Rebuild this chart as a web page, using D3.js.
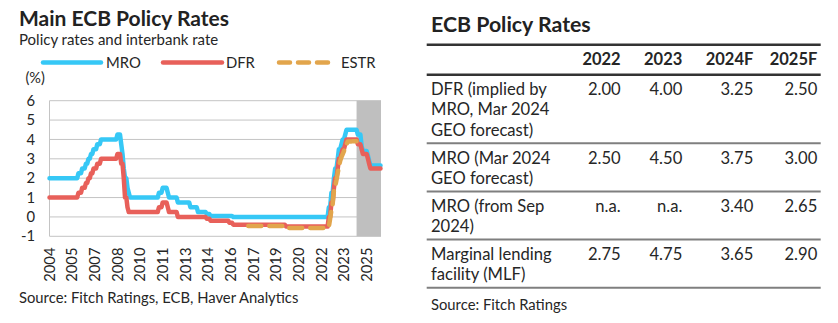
<!DOCTYPE html>
<html><head><meta charset="utf-8">
<script src="https://cdn.jsdelivr.net/npm/d3@7"></script>
<style>
html,body{margin:0;padding:0;background:#fff;}
svg{display:block;font-family:Lato, "Open Sans", sans-serif;}
</style></head>
<body><svg id="c" width="838" height="323"></svg>
<script>
// ---------- DATA ----------
// Rate change points [month, value] (value holds until next change)
const mroChanges = [["2004-01",2.00],["2005-12",2.25],["2006-03",2.50],["2006-06",2.75],["2006-08",3.00],["2006-10",3.25],["2006-12",3.50],["2007-03",3.75],["2007-06",4.00],["2008-07",4.25],["2008-10",3.75],["2008-11",3.25],["2008-12",2.50],["2009-01",2.00],["2009-03",1.50],["2009-04",1.25],["2009-05",1.00],["2011-04",1.25],["2011-07",1.50],["2011-11",1.25],["2011-12",1.00],["2012-07",0.75],["2013-05",0.50],["2013-11",0.25],["2014-06",0.15],["2014-09",0.05],["2016-03",0.00],["2022-07",0.50],["2022-09",1.25],["2022-11",2.00],["2022-12",2.50],["2023-02",3.00],["2023-03",3.50],["2023-05",3.75],["2023-06",4.00],["2023-08",4.25],["2023-09",4.50],["2024-06",4.25],["2024-09",3.65],["2024-10",3.40],["2025-02",3.15],["2025-03",2.90],["2025-04",2.65]];
const dfrChanges = [["2004-01",1.00],["2005-12",1.25],["2006-03",1.50],["2006-06",1.75],["2006-08",2.00],["2006-10",2.25],["2006-12",2.50],["2007-03",2.75],["2007-06",3.00],["2008-07",3.25],["2008-10",2.75],["2008-12",2.00],["2009-01",1.00],["2009-03",0.50],["2009-04",0.25],["2011-04",0.50],["2011-07",0.75],["2011-11",0.50],["2011-12",0.25],["2012-07",0.00],["2014-06",-0.10],["2014-09",-0.20],["2015-12",-0.30],["2016-03",-0.40],["2019-09",-0.50],["2022-07",0.00],["2022-09",0.75],["2022-11",1.50],["2022-12",2.00],["2023-02",2.50],["2023-03",3.00],["2023-05",3.25],["2023-06",3.50],["2023-08",3.75],["2023-09",4.00],["2024-06",3.75],["2024-09",3.50],["2024-10",3.25],["2025-02",3.00],["2025-03",2.75],["2025-04",2.50]];
const estrChanges = [["2017-03",-0.47],["2019-10",-0.57],["2022-07",-0.51],["2022-08",-0.09],["2022-09",0.35],["2022-10",0.66],["2022-11",1.37],["2022-12",1.57],["2023-01",1.90],["2023-02",2.28],["2023-03",2.57],["2023-04",2.90],["2023-05",3.08],["2023-06",3.24],["2023-07",3.40],["2023-08",3.64],["2023-09",3.75],["2023-10",3.90],["2024-02",3.91]];
const seriesEnd = {MRO:"2025-12", DFR:"2025-12", ESTR:"2024-05"};
const seriesNames = ["MRO","DFR","ESTR"];
const forecastStart = "2024-05";
const xTickDates = ["2004-01","2005-07","2007-01","2008-07","2010-01","2011-07","2013-01","2014-07","2016-01","2017-07","2019-01","2020-07","2022-01","2023-07","2025-01"];
const xTickLabels = ["2004","2005","2007","2008","2010","2011","2013","2014","2016","2017","2019","2020","2022","2023","2025"];
const yTicks = [-1,0,1,2,3,4,5,6];

const tableColumns = ["2022","2023","2024F","2025F"];
const tableRowLabels = [["DFR (implied by","MRO, Mar 2024","GEO forecast)"],["MRO (Mar 2024","GEO forecast)"],["MRO (from Sep","2024)"],["Marginal lending","facility (MLF)"]];
const rowDFR = ["2.00","4.00","3.25","2.50"];
const rowMROMar = ["2.50","4.50","3.75","3.00"];
const rowMROSep = ["n.a.","n.a.","3.40","2.65"];
const rowMLF = ["2.75","4.75","3.65","2.90"];

// ---------- HELPERS ----------
const parseM = d3.timeParse("%Y-%m");
function holdMonthly(changes, end){
  const out=[]; let i=0; let v=changes[0][1];
  const endD=parseM(end);
  for(let d=parseM(changes[0][0]); d<=endD; d=d3.timeMonth.offset(d,1)){
    while(i<changes.length && parseM(changes[i][0])<=d){ v=changes[i][1]; i++; }
    out.push({date:d, value:v});
  }
  return out;
}
const series = {
  MRO: holdMonthly(mroChanges, seriesEnd.MRO),
  DFR: holdMonthly(dfrChanges, seriesEnd.DFR),
  ESTR: holdMonthly(estrChanges, seriesEnd.ESTR)
};
const colors = {MRO:"#36c8f6", DFR:"#e8605a", ESTR:"#e2a54c"};
const textCol = "#262626";
const fs = 14.8;

const svg = d3.select("#c");

// ---------- LEFT CHART ----------
svg.append("text").attr("x",19).attr("y",26).attr("font-size",21).attr("font-weight",700).attr("fill","#222").text("Main ECB Policy Rates");
svg.append("text").attr("x",19).attr("y",45).attr("font-size",15).attr("fill",textCol).text("Policy rates and interbank rate");

const x = d3.scaleTime().domain([parseM("2004-01"), parseM("2025-12")]).range([49.5, 380.5]);
const y = d3.scaleLinear().domain([-1,6]).range([236.3,100.7]);
const plotL = 49.5, plotR = 381;

// gridlines
svg.append("g").selectAll("line").data(yTicks).join("line")
  .attr("x1",plotL).attr("x2",plotR).attr("y1",d=>y(d)).attr("y2",d=>y(d))
  .attr("stroke","#c4c4c4").attr("stroke-width",1);
// forecast shade
svg.append("rect").attr("x",x(parseM(forecastStart))).attr("y",y(6)).attr("width",plotR-x(parseM(forecastStart))).attr("height",y(-1)-y(6)).attr("fill","#bfbfbf");
// left axis line
svg.append("line").attr("x1",plotL).attr("x2",plotL).attr("y1",y(6)).attr("y2",y(-1)).attr("stroke","#c4c4c4");

// y labels
svg.append("g").selectAll("text").data(yTicks).join("text")
  .attr("x",35).attr("y",d=>y(d)).attr("dy","0.35em").attr("text-anchor","end")
  .attr("font-size",fs).attr("fill",textCol).text(d=>d);
svg.append("text").attr("x",25.5).attr("y",83).attr("font-size",14.5).attr("fill",textCol).text("(%)");

// x labels
svg.append("g").selectAll("text").data(xTickDates).join("text")
  .attr("transform",(d)=>`translate(${x(parseM(d))},247.5) rotate(-90)`)
  .attr("dy","0.35em").attr("text-anchor","end").attr("font-size",fs).attr("fill",textCol)
  .text((d,i)=>xTickLabels[i]);

// lines
const line = d3.line().x(d=>x(d.date)).y(d=>y(d.value));
seriesNames.forEach(n=>{
  svg.append("path").datum(series[n]).attr("d",line).attr("fill","none")
    .attr("stroke",colors[n]).attr("stroke-width",4.5).attr("stroke-linejoin","round")
    .attr("stroke-linecap","round")
    .attr("stroke-dasharray", n==="ESTR" ? "13,8" : null);
});

// legend
const legendItems = [{n:"MRO",x1:43,x2:101,tx:106},{n:"DFR",x1:163,x2:222,tx:226},{n:"ESTR",x1:279,x2:331,tx:341}];
legendItems.forEach(l=>{
  svg.append("line").attr("x1",l.x1).attr("x2",l.x2).attr("y1",62.5).attr("y2",62.5)
    .attr("stroke",colors[l.n]).attr("stroke-width",4.5).attr("stroke-linecap","round")
    .attr("stroke-dasharray", l.n==="ESTR" ? "11,8" : null);
  svg.append("text").attr("x",l.tx).attr("y",67.8).attr("font-size",fs).attr("fill",textCol).text(l.n);
});

svg.append("text").attr("x",19).attr("y",302.5).attr("font-size",fs).attr("fill",textCol).text("Source: Fitch Ratings, ECB, Haver Analytics");

// ---------- RIGHT TABLE ----------
const tL = 426.7, tR = 820.7, tx0 = 431;
const colRight = [620.7, 682.3, 753.3, 817.3];
svg.append("text").attr("x",tx0).attr("y",32.3).attr("font-size",21.3).attr("font-weight",700).attr("fill","#222").text("ECB Policy Rates");
svg.append("line").attr("x1",tL).attr("x2",tR).attr("y1",44.7).attr("y2",44.7).attr("stroke","#333").attr("stroke-width",2.5);
svg.append("g").selectAll("text").data(tableColumns).join("text")
  .attr("x",(d,i)=>colRight[i]).attr("y",65).attr("text-anchor","end")
  .attr("font-size",16.5).attr("font-weight",700).attr("fill",textCol).text(d=>d);
svg.append("line").attr("x1",tL).attr("x2",tR).attr("y1",74.7).attr("y2",74.7).attr("stroke","#333").attr("stroke-width",2.5);

const rowValues = [rowDFR, rowMROMar, rowMROSep, rowMLF];
const lh = 20.3;
let rowTop = 74.7;
tableRowLabels.forEach((lbls, r)=>{
  const g = svg.append("g");
  lbls.forEach((t,k)=>{
    g.append("text").attr("x",tx0).attr("y",rowTop+20.3+k*lh).attr("font-size",16.6).attr("fill",textCol).text(t);
  });
  rowValues[r].forEach((v,i)=>{
    g.append("text").attr("x",colRight[i]).attr("y",rowTop+20.3).attr("text-anchor","end").attr("font-size",16.6).attr("fill",textCol).text(v);
  });
  const bottom = rowTop + 20.3 + (lbls.length-1)*lh + 7.6;
  svg.append("line").attr("x1",tL).attr("x2",tR).attr("y1",bottom).attr("y2",bottom).attr("stroke","#7f7f7f").attr("stroke-width",2);
  rowTop = bottom;
});
svg.append("text").attr("x",tx0).attr("y",310).attr("font-size",14.8).attr("fill",textCol).text("Source: Fitch Ratings");
</script>
</body></html>
